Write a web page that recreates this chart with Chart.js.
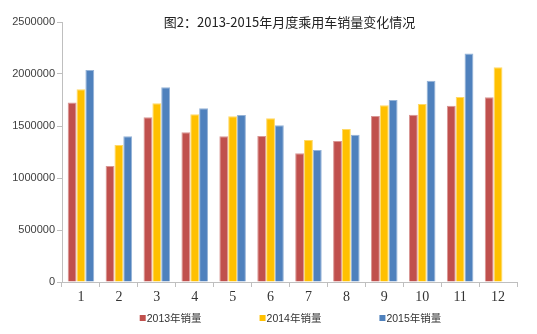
<!DOCTYPE html>
<html>
<head>
<meta charset="utf-8">
<script src="https://cdn.jsdelivr.net/npm/chart.js@4/dist/chart.umd.min.js"></script>
<style>
  html, body { margin: 0; padding: 0; background: #fff; }
  #wrap { width: 537px; height: 334px; }
</style>
</head>
<body>
<div id="wrap"><canvas id="c" width="537" height="334"></canvas></div>
<script>
/* 月度乘用车销量 2013-2015 */
const title  = '图2：2013-2015年月度乘用车销量变化情况'
const months = ['1', '2', '3', '4', '5', '6', '7', '8', '9', '10', '11', '12']

const sales2013 = [1726000, 1115000, 1583000, 1439000, 1401000, 1404000, 1237000, 1356000, 1596000, 1609000, 1695000, 1776000]
const sales2014 = [1853000, 1317000, 1718000, 1612000, 1593000, 1574000, 1365000, 1471000, 1699000, 1712000, 1779000, 2064000]
const sales2015 = [2038000, 1401000, 1872000, 1670000, 1606000, 1507000, 1269000, 1417000, 1750000, 1936000, 2196000, null]

const seriesNames = ['2013年销量', '2014年销量', '2015年销量']
const yTicks = [0, 500000, 1000000, 1500000, 2000000, 2500000]

const axisColor = '#bfbfbf'

// title + legend drawn by hand so they sit like in the Excel original
const decor = {
  id: 'decor',
  afterDraw (chart) {
    const { ctx, chartArea } = chart
    const cx = (chartArea.left + chartArea.right) / 2
    ctx.save()
    ctx.fillStyle = '#222'
    ctx.font = '13px "Noto Sans CJK SC"'
    ctx.textAlign = 'center'
    ctx.textBaseline = 'middle'
    ctx.fillText(title, cx, chartArea.top)

    ctx.font = '10.5px "Liberation Sans", "Noto Sans CJK SC"'
    ctx.textAlign = 'left'
    const gap = 58
    const widths = chart.data.datasets.map(d => 7 + ctx.measureText(d.label).width)
    const total = widths.reduce((a, b) => a + b, 0) + gap * (widths.length - 1)
    let x = cx - total / 2 + 1
    const y = 318
    chart.data.datasets.forEach((d, i) => {
      ctx.fillStyle = d.backgroundColor
      ctx.fillRect(x, y - 3, 6, 6)
      ctx.fillStyle = '#333'
      ctx.fillText(d.label, x + 7, y + 1)
      x += widths[i] + gap
    })
    ctx.restore()
  }
}

new Chart(document.getElementById('c'), {
  type: 'bar',
  data: {
    labels: months,
    datasets: [
      { label: seriesNames[0], data: sales2013, backgroundColor: '#C0504D', borderColor: '#D99694' },
      { label: seriesNames[1], data: sales2014, backgroundColor: '#FFC000', borderColor: '#FFD966' },
      { label: seriesNames[2], data: sales2015, backgroundColor: '#4F81BD', borderColor: '#95B3D7' }
    ].map(d => ({ ...d, borderWidth: 1, borderSkipped: 'bottom', categoryPercentage: 0.7, barPercentage: 1 }))
  },
  options: {
    responsive: false,
    animation: false,
    layout: { padding: { left: 0, right: 20, top: 22, bottom: 0 } },
    plugins: {
      legend: { display: false },
      title: { display: false },
      tooltip: { enabled: false }
    },
    scales: {
      x: {
        afterFit: s => { s.height = 52 },
        grid: { offset: true, drawOnChartArea: false, color: axisColor, tickLength: 5 },
        border: { color: axisColor },
        ticks: { color: '#333', font: { family: '"Liberation Serif"', size: 14 }, padding: 2 }
      },
      y: {
        min: 0,
        max: 2500000,
        afterFit: s => { s.width = 62 },
        afterBuildTicks: s => { s.ticks = yTicks.map(v => ({ value: v })) },
        grid: { drawOnChartArea: false, color: axisColor, tickLength: 5 },
        border: { color: axisColor },
        ticks: {
          color: '#404040',
          font: { family: '"Liberation Sans"', size: 11 },
          padding: 2,
          callback: v => String(v)
        }
      }
    }
  },
  plugins: [decor]
})
</script>
</body>
</html>
